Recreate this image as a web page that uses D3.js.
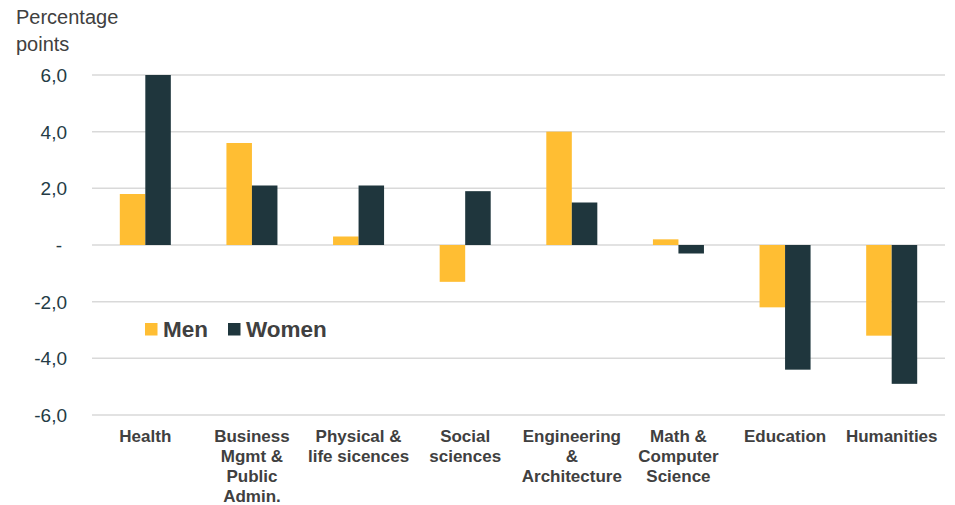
<!DOCTYPE html>
<html>
<head>
<meta charset="utf-8">
<script src="https://cdn.jsdelivr.net/npm/d3@7"></script>
<style>
  html, body { margin: 0; padding: 0; background: #fff; }
  svg { display: block; font-family: "Liberation Sans", Arial, sans-serif; }
</style>
</head>
<body>
<svg id="chart" width="955" height="505"></svg>
<script>
// ---- data ----
const categories = ["Health", "Business Mgmt & Public Admin.", "Physical & life sicences", "Social sciences", "Engineering & Architecture", "Math & Computer Science", "Education", "Humanities"];
const categoryLines = [
  ["Health"],
  ["Business", "Mgmt &", "Public", "Admin."],
  ["Physical &", "life sicences"],
  ["Social", "sciences"],
  ["Engineering", "&", "Architecture"],
  ["Math &", "Computer", "Science"],
  ["Education"],
  ["Humanities"]
];
const seriesNames = ["Men", "Women"];
const menValues = [1.8, 3.6, 0.3, -1.3, 4.0, 0.2, -2.2, -3.2];
const womenValues = [6.0, 2.1, 2.1, 1.9, 1.5, -0.3, -4.4, -4.9];
const yTicks = [-6, -4, -2, 0, 2, 4, 6];
const yTitle = ["Percentage", "points"];

const colors = { Men: "#FFBE33", Women: "#1F363D" };

// ---- layout ----
const svg = d3.select("#chart");
const plot = { left: 92, right: 945, top: 75, bottom: 415 };

const x = d3.scaleBand().domain(categories).range([plot.left, plot.right]).paddingInner(0).paddingOuter(0);
const y = d3.scaleLinear().domain([-6, 6]).range([plot.bottom, plot.top]);

const bw = x.bandwidth();
const barW = bw / 4.18;
const x1 = d3.scaleBand().domain(seriesNames).range([bw / 2 - barW, bw / 2 + barW]).padding(0);

// gridlines
svg.append("g").selectAll("line").data(yTicks).join("line")
  .attr("x1", plot.left).attr("x2", plot.right)
  .attr("y1", d => y(d)).attr("y2", d => y(d))
  .attr("stroke", "#D9D9D9").attr("stroke-width", 1.5);

// y tick labels
const fmt = d => d === 0 ? "-" : d3.format(".1f")(d).replace(".", ",").replace("\u2212", "-");
svg.append("g").selectAll("text").data(yTicks).join("text")
  .attr("x", d => d === 0 ? 62 : 67)
  .attr("y", d => y(d))
  .attr("dy", "0.36em")
  .attr("text-anchor", "end")
  .attr("font-size", 19)
  .attr("fill", "#243B45")
  .text(fmt);

// y title
svg.append("text")
  .attr("x", 16).attr("y", 24)
  .attr("font-size", 20).attr("fill", "#404040")
  .selectAll("tspan").data(yTitle).join("tspan")
  .attr("x", 16).attr("dy", (d, i) => i === 0 ? 0 : 27)
  .text(d => d);

// bars
const data = categories.map((c, i) => ({ cat: c, Men: menValues[i], Women: womenValues[i] }));
const groups = svg.append("g").selectAll("g").data(data).join("g")
  .attr("transform", d => `translate(${x(d.cat)},0)`);
groups.selectAll("rect").data(d => seriesNames.map(s => ({ s, v: d[s] }))).join("rect")
  .attr("x", d => x1(d.s))
  .attr("width", x1.bandwidth())
  .attr("y", d => y(Math.max(0, d.v)))
  .attr("height", d => Math.abs(y(d.v) - y(0)))
  .attr("fill", d => colors[d.s]);

// category labels
const labels = svg.append("g").selectAll("text").data(categories).join("text")
  .attr("text-anchor", "middle")
  .attr("font-size", 17)
  .attr("font-weight", "bold")
  .attr("fill", "#404040")
  .attr("transform", d => `translate(${x(d) + bw / 2},442)`);
labels.selectAll("tspan").data((d, i) => categoryLines[i]).join("tspan")
  .attr("x", 0).attr("y", (d, i) => i * 20)
  .text(d => d);

// legend
const legend = svg.append("g").attr("transform", "translate(145,323)");
const legendX = [0, 83];
seriesNames.forEach((s, i) => {
  legend.append("rect").attr("x", legendX[i]).attr("y", 0).attr("width", 12.5).attr("height", 12.5).attr("fill", colors[s]);
  legend.append("text").attr("x", legendX[i] + 18).attr("y", 14)
    .attr("font-size", 22.5).attr("font-weight", "bold").attr("fill", "#404040").text(s);
});
</script>
</body>
</html>
